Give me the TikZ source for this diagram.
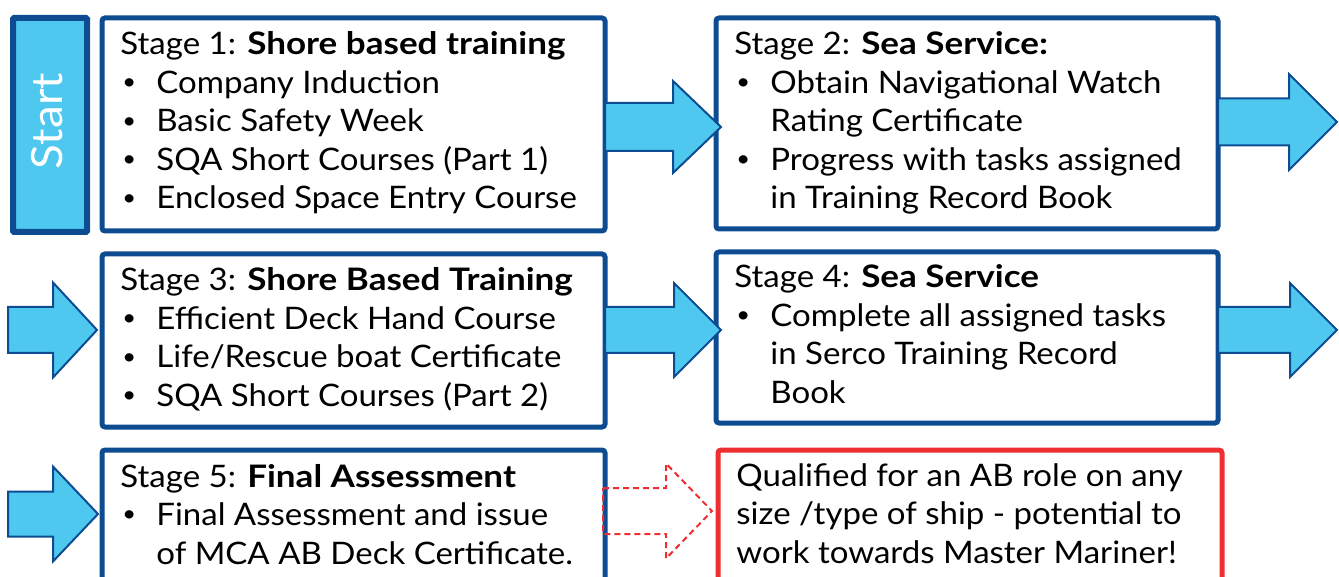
\documentclass[tikz,border=0pt]{standalone}
\usepackage{fontspec}
\setmainfont{Lato}[FakeStretch=1.065, BoldFeatures={FakeStretch=1.13}]
\definecolor{dblue}{HTML}{0E4C92}
\definecolor{lblue}{HTML}{4FC8F0}
\definecolor{rred}{HTML}{EE2E31}
\newcommand\stagelines[1]{\vtop{\baselineskip=19.25pt\lineskiplimit=-10pt\halign{##\hfil\cr#1\crcr}}}
\newcommand\bul{\makebox[18pt][l]{\hspace{1pt}\raisebox{0.12em}{\scalebox{0.72}{\textbullet}}}}
\newcommand\ind{\hspace*{18pt}}
\newcommand\barrow[7]{%
  \draw[#1] (#2,#5-#6) -- (#3,#5-#6) -- (#3,#5-#7) -- (#4,#5) -- (#3,#5+#7) -- (#3,#5+#6) -- (#2,#5+#6) -- cycle;}
\begin{document}
\begin{tikzpicture}[x=0.5pt,y=-0.5pt,
  box/.style={draw=dblue, line width=2.5pt, fill=white, rounded corners=1.5pt, inner sep=0pt, anchor=north west},
  redbox/.style={box, draw=rred},
  startbox/.style={box, fill=lblue, line width=3pt, rounded corners=0.5pt},
  txt/.style={inner sep=0pt, anchor=base west, text=black, font=\fontsize{15.5pt}{19.25pt}\selectfont},
  barrowst/.style={draw=dblue, line width=1pt, fill=lblue},
  darrowst/.style={draw=rred, line width=1pt, dash pattern=on 3pt off 2pt},
]
\clip (0,0) rectangle (1339,577);
% boxes
\node[startbox, minimum width=37pt, minimum height=107pt] (start) at (10,15) {};
\node[text=white, rotate=90, font=\fontsize{21.5pt}{26pt}\selectfont, inner sep=0pt] (starttxt) at (47,121) {Start};
\node[box, minimum width=251.5pt, minimum height=106.5pt] (s1) at (99.5,15.5) {};
\node[box, minimum width=251pt, minimum height=105.5pt] (s2) at (713.5,15.5) {};
\node[box, minimum width=251.5pt, minimum height=86.5pt] (s3) at (99.5,251.5) {};
\node[box, minimum width=251pt, minimum height=85.5pt] (s4) at (713.5,249.5) {};
\node[box, minimum width=251.5pt, minimum height=80pt] (s5) at (99.5,447.5) {};
\node[redbox, minimum width=252pt, minimum height=80pt] (final) at (715.5,447.5) {};
% texts
\node[txt] (t1) at (120,55) {\stagelines{Stage 1: \textbf{Shore based training}\cr
 \bul Company Induction\cr
 \bul Basic Safety Week\cr
 \bul SQA Short Courses (Part 1)\cr
 \bul Enclosed Space Entry Course}};
\node[txt] (t2) at (734,55) {\stagelines{Stage 2: \textbf{Sea Service:}\cr
 \bul Obtain Navigational Watch\cr
 \ind Rating Certificate\cr
 \bul Progress with tasks assigned\cr
 \ind in Training Record Book}};
\node[txt] (t3) at (120,291) {\stagelines{Stage 3: \textbf{Shore Based Training}\cr
 \bul Efficient Deck Hand Course\cr
 \bul Life/Rescue boat Certificate\cr
 \bul SQA Short Courses (Part 2)}};
\node[txt] (t4) at (734,288) {\stagelines{Stage 4: \textbf{Sea Service}\cr
 \bul Complete all assigned tasks\cr
 \ind in Serco Training Record\cr
 \ind Book}};
\node[txt] (t5) at (120,487) {\stagelines{Stage 5: \textbf{Final Assessment}\cr
 \bul Final Assessment and issue\cr
 \ind of MCA AB Deck Certificate.}};
\node[txt] (t6) at (736,486) {\stagelines{Qualified for an AB role on any\cr
 size /type of ship - potential to\cr
 work towards Master Mariner!}};
% arrows
\barrow{barrowst}{605}{673}{721}{127}{24}{46}
\barrow{barrowst}{1218}{1289}{1337}{122}{23.5}{48}
\barrow{barrowst}{8}{53}{97}{330}{23}{47.5}
\barrow{barrowst}{605}{674}{721}{330}{23}{47}
\barrow{barrowst}{1218}{1290}{1337}{330}{23}{47}
\barrow{barrowst}{8}{53}{98}{514}{22.5}{47.5}
\barrow{darrowst}{603}{666}{712}{511}{23}{47.5}
\end{tikzpicture}
\end{document}
